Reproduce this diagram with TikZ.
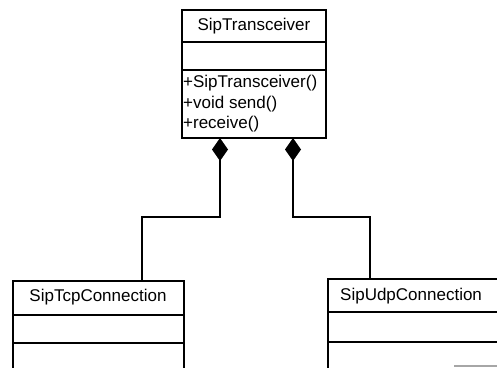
\documentclass[tikz,border=0pt]{standalone}
\usepackage{fontspec}
\setmainfont{Liberation Sans}
\usetikzlibrary{arrows.meta}
\begin{document}
\begin{tikzpicture}[x=1pt,y=-1pt,
  compart/.style={draw=black,line width=1.2pt,inner sep=0pt},
  ttl/.style={font=\fontsize{17}{20}\selectfont,inner sep=0pt},
  ops/.style={font=\fontsize{17}{20.5}\selectfont,inner sep=0pt,align=left,anchor=north west},
  comp/.style={line width=1.2pt,{Diamond[length=23pt,width=16pt]}-}]
\useasboundingbox (0,0) rectangle (497,367);
% SipTransceiver
\draw[compart] (182,10) rectangle (326,42);
\draw[compart] (182,42) rectangle (326,70);
\draw[compart] (182,70) rectangle (326,138);
\node[ttl] (sth) at (254,26) {SipTransceiver};
\node[ops] (sto) at (183,75) {+SipTransceiver()\\+void send()\\+receive()};
\coordinate (a1) at (220,138);
\coordinate (a2) at (293,138);
% SipTcpConnection
\draw[compart] (13,281) rectangle (184,315);
\draw[compart] (13,315) rectangle (184,343);
\draw[compart] (13,343) rectangle (184,380);
\node[ttl] (tcp) at (98,297) {SipTcpConnection};
\coordinate (b1) at (142,281);
% SipUdpConnection
\draw[compart] (328,279) rectangle (515,312);
\draw[compart] (328,312) rectangle (515,342);
\draw[compart] (328,342) rectangle (515,380);
\node[ttl,anchor=west] (udp) at (340,296) {SipUdpConnection};
\coordinate (b2) at (370,279);
% compositions
\draw[comp] (a1) -- ++(0,79) -| (b1);
\draw[comp] (a2) -- ++(0,79) -| (b2);
% scan artefact
\draw[gray!70,line width=1.5pt] (454,366) -- (497,366);
\end{tikzpicture}
\end{document}
